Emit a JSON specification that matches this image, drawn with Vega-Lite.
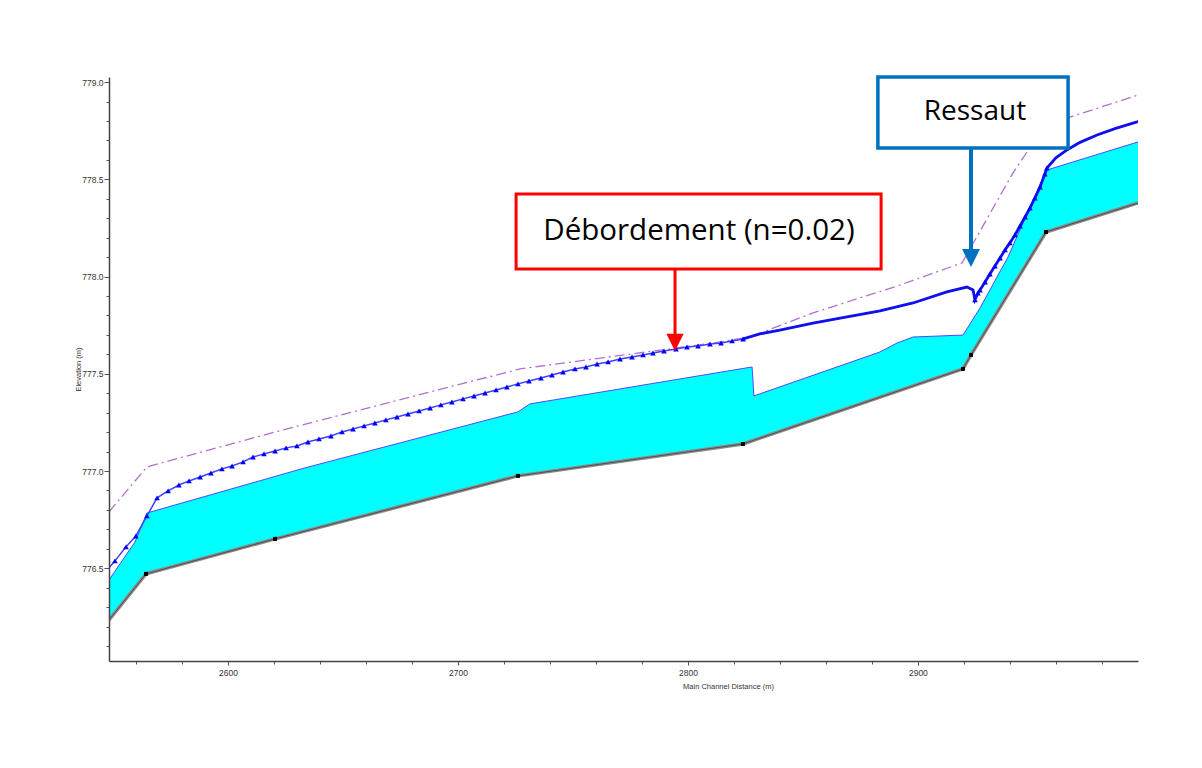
{
  "$schema": "https://vega.github.io/schema/vega-lite/v6.json",
  "width": 1029,
  "height": 584,
  "autosize": "none",
  "padding": {"left": 109, "top": 77, "right": 64, "bottom": 107},
  "background": "white",
  "config": {"view": {"stroke": null}},
  "datasets": {
    "ws": [
      {"x": 2548.3, "y": 776.44}, {"x": 2559.6, "y": 776.635}, {"x": 2564.8, "y": 776.784},
      {"x": 2633.5, "y": 777.016}, {"x": 2726.1, "y": 777.304}, {"x": 2731.3, "y": 777.345},
      {"x": 2827.9, "y": 777.535}, {"x": 2828.7, "y": 777.386}, {"x": 2883.5, "y": 777.612},
      {"x": 2890.9, "y": 777.658}, {"x": 2897.9, "y": 777.689}, {"x": 2919.6, "y": 777.699},
      {"x": 2927.0, "y": 777.838}, {"x": 2939.2, "y": 778.101}, {"x": 2948.7, "y": 778.358},
      {"x": 2956.1, "y": 778.548}, {"x": 2995.7, "y": 778.692}
    ],
    "bed": [
      {"x": 2548.3, "y": 776.234}, {"x": 2564.4, "y": 776.471}, {"x": 2620.5, "y": 776.651},
      {"x": 2726.1, "y": 776.975}, {"x": 2823.9, "y": 777.139}, {"x": 2919.6, "y": 777.525},
      {"x": 2923.1, "y": 777.597}, {"x": 2955.7, "y": 778.229}, {"x": 2995.7, "y": 778.378}
    ],
    "crit": [
      {"x": 2546.1, "y": 776.471}, {"x": 2550.9, "y": 776.538}, {"x": 2555.7, "y": 776.610},
      {"x": 2560.0, "y": 776.666}, {"x": 2564.8, "y": 776.769}, {"x": 2569.2, "y": 776.862},
      {"x": 2574.0, "y": 776.898}, {"x": 2578.7, "y": 776.928}, {"x": 2583.1, "y": 776.949},
      {"x": 2587.9, "y": 776.969}, {"x": 2592.6, "y": 776.990}, {"x": 2597.4, "y": 777.011},
      {"x": 2601.8, "y": 777.026}, {"x": 2606.6, "y": 777.047}, {"x": 2610.9, "y": 777.072},
      {"x": 2615.7, "y": 777.088}, {"x": 2620.5, "y": 777.103}, {"x": 2625.3, "y": 777.119},
      {"x": 2630.0, "y": 777.129}, {"x": 2634.8, "y": 777.149}, {"x": 2639.6, "y": 777.165},
      {"x": 2644.8, "y": 777.180}, {"x": 2649.6, "y": 777.201}, {"x": 2654.4, "y": 777.216},
      {"x": 2659.2, "y": 777.232}, {"x": 2663.9, "y": 777.247}, {"x": 2668.7, "y": 777.263},
      {"x": 2673.5, "y": 777.278}, {"x": 2678.3, "y": 777.293}, {"x": 2683.1, "y": 777.309},
      {"x": 2687.9, "y": 777.324}, {"x": 2692.6, "y": 777.340}, {"x": 2697.4, "y": 777.355},
      {"x": 2702.2, "y": 777.371}, {"x": 2707.0, "y": 777.386}, {"x": 2711.8, "y": 777.401},
      {"x": 2716.6, "y": 777.417}, {"x": 2721.3, "y": 777.432}, {"x": 2726.1, "y": 777.448},
      {"x": 2730.9, "y": 777.463}, {"x": 2736.1, "y": 777.478}, {"x": 2740.9, "y": 777.494},
      {"x": 2745.7, "y": 777.509}, {"x": 2750.9, "y": 777.525}, {"x": 2755.7, "y": 777.535},
      {"x": 2760.5, "y": 777.550}, {"x": 2765.3, "y": 777.561}, {"x": 2770.5, "y": 777.576},
      {"x": 2775.7, "y": 777.586}, {"x": 2780.5, "y": 777.597}, {"x": 2784.8, "y": 777.607},
      {"x": 2789.6, "y": 777.617}, {"x": 2794.8, "y": 777.627}, {"x": 2799.6, "y": 777.638},
      {"x": 2804.4, "y": 777.643}, {"x": 2809.6, "y": 777.653}, {"x": 2814.4, "y": 777.658},
      {"x": 2819.2, "y": 777.669}, {"x": 2824.0, "y": 777.679}, {"x": 2831.3, "y": 777.705},
      {"x": 2840.0, "y": 777.725}, {"x": 2854.4, "y": 777.761}, {"x": 2869.2, "y": 777.792},
      {"x": 2883.5, "y": 777.823}, {"x": 2897.9, "y": 777.864}, {"x": 2912.6, "y": 777.921},
      {"x": 2921.3, "y": 777.946}, {"x": 2924.0, "y": 777.931}, {"x": 2924.8, "y": 777.880},
      {"x": 2926.1, "y": 777.915}, {"x": 2927.0, "y": 777.931}, {"x": 2929.2, "y": 777.972},
      {"x": 2931.3, "y": 778.013}, {"x": 2933.5, "y": 778.054}, {"x": 2935.7, "y": 778.095},
      {"x": 2937.9, "y": 778.137}, {"x": 2940.0, "y": 778.173}, {"x": 2942.2, "y": 778.214},
      {"x": 2944.4, "y": 778.260}, {"x": 2946.6, "y": 778.306}, {"x": 2948.7, "y": 778.352},
      {"x": 2950.9, "y": 778.404}, {"x": 2953.1, "y": 778.460}, {"x": 2955.2, "y": 778.527},
      {"x": 2956.1, "y": 778.558}, {"x": 2960.0, "y": 778.610}, {"x": 2964.8, "y": 778.651},
      {"x": 2970.5, "y": 778.690}, {"x": 2977.9, "y": 778.728}, {"x": 2986.0, "y": 778.762},
      {"x": 2995.3, "y": 778.795}, {"x": 2996.6, "y": 778.800}
    ],
    "egl": [
      {"x": 2548.3, "y": 776.790}, {"x": 2564.8, "y": 777.021}, {"x": 2627.0, "y": 777.221},
      {"x": 2727.0, "y": 777.525}, {"x": 2810.9, "y": 777.658}, {"x": 2827.0, "y": 777.689},
      {"x": 2854.4, "y": 777.813}, {"x": 2890.9, "y": 777.951}, {"x": 2919.2, "y": 778.070},
      {"x": 2941.3, "y": 778.532}, {"x": 2950.9, "y": 778.702}, {"x": 2966.1, "y": 778.820},
      {"x": 2995.7, "y": 778.933}
    ],
    "redbox": [{"x": 2725.3, "x2": 2884.0, "y": 778.424, "y2": 778.039}],
    "bluebox": [{"x": 2882.6, "x2": 2965.3, "y": 779.026, "y2": 778.661}],
    "redarrow": [{"x": 2794.4, "y": 778.039, "y2": 777.70, "tip": 777.617}],
    "bluearrow": [{"x": 2923.1, "y": 778.661, "y2": 778.10, "tip": 778.049}],
    "redtext": [{"x": 2804.8, "y": 778.188, "label": "Débordement (n=0.02)"}],
    "bluetext": [{"x": 2924.8, "y": 778.805, "label": "Ressaut"}]
  },
  "encoding": {
    "x": {
      "field": "x", "type": "quantitative", "title": "Main Channel Distance (m)",
      "scale": {"domain": [2548.3, 2995.7], "nice": false, "zero": false},
      "axis": {
        "values": [2560, 2580, 2600, 2620, 2640, 2660, 2680, 2700, 2720, 2740, 2760, 2780, 2800, 2820, 2840, 2860, 2880, 2900, 2920, 2940, 2960, 2980],
        "labelExpr": "datum.value % 100 === 0 ? format(datum.value, 'd') : ''",
        "tickSize": {"condition": {"test": "datum.value % 100 === 0", "value": 4}, "value": 3},
        "grid": false, "labelFlush": false, "labelOverlap": false,
        "labelFont": "Liberation Sans", "labelFontSize": 8.5, "labelColor": "#333333", "labelPadding": 3,
        "domainColor": "#444444", "domainWidth": 1.5, "tickColor": "#555555", "tickWidth": 1,
        "titleFont": "Liberation Sans", "titleFontSize": 7.5, "titleFontWeight": "normal", "titleColor": "#333333",
        "titleX": 619, "titleY": 21, "titleBaseline": "top", "zindex": 1
      }
    },
    "y": {
      "field": "y", "type": "quantitative", "title": "Elevation (m)",
      "scale": {"domain": [776.023, 779.026], "nice": false, "zero": false},
      "axis": {
        "values": [776.1, 776.2, 776.3, 776.4, 776.5, 776.6, 776.7, 776.8, 776.9, 777.0, 777.1, 777.2, 777.3, 777.4, 777.5, 777.6, 777.7, 777.8, 777.9, 778.0, 778.1, 778.2, 778.3, 778.4, 778.5, 778.6, 778.7, 778.8, 778.9, 779.0],
        "labelExpr": "abs(datum.value * 2 - round(datum.value * 2)) < 0.001 ? format(datum.value, '.1f') : ''",
        "tickSize": {"condition": {"test": "abs(datum.value * 2 - round(datum.value * 2)) < 0.001", "value": 5}, "value": 3},
        "grid": false, "labelFlush": false, "labelOverlap": false,
        "labelFont": "Liberation Sans", "labelFontSize": 8.5, "labelColor": "#333333", "labelPadding": 1,
        "domainColor": "#444444", "domainWidth": 1.5, "tickColor": "#555555", "tickWidth": 1,
        "titleFont": "Liberation Sans", "titleFontSize": 7.5, "titleFontWeight": "normal", "titleColor": "#333333",
        "titleX": -27, "titleY": 292, "titleAngle": -90, "titleAlign": "center", "titleBaseline": "bottom", "zindex": 1
      }
    }
  },
  "layer": [
    {"data": {"name": "ws"}, "mark": {"type": "area", "color": "#00ffff", "clip": true}, "encoding": {"y2": {"datum": 776.023}}},
    {"data": {"name": "bed"}, "mark": {"type": "area", "color": "#ffffff", "clip": true}, "encoding": {"y2": {"datum": 776.023}}},
    {"data": {"name": "bed"}, "mark": {"type": "line", "color": "#8c8c8c", "strokeWidth": 3.5, "clip": true}, "encoding": {}},
    {"data": {"name": "bed"}, "mark": {"type": "line", "color": "#404040", "strokeWidth": 0.8, "clip": true}, "encoding": {}},
    {"data": {"name": "bed"}, "transform": [{"filter": "datum.x > 2549 && datum.x < 2995"}], "mark": {"type": "point", "shape": "square", "filled": true, "color": "#000000", "size": 16, "opacity": 1}},
    {"data": {"name": "ws"}, "mark": {"type": "line", "color": "#4a4aff", "strokeWidth": 1, "clip": true}, "encoding": {}},
    {"data": {"name": "egl"}, "mark": {"type": "line", "color": "#b270cc", "strokeWidth": 1.3, "strokeDash": [10, 4, 2, 4], "clip": true}, "encoding": {}},
    {"data": {"name": "crit"}, "mark": {"type": "line", "color": "#4040ff", "strokeWidth": 1.5, "clip": true}, "encoding": {}},
    {"data": {"name": "crit"}, "transform": [{"filter": "datum.x >= 2823"}], "mark": {"type": "line", "color": "#1010ee", "strokeWidth": 2.8, "clip": true}, "encoding": {}},
    {"data": {"name": "crit"}, "transform": [{"filter": "datum.x < 2825 || (datum.x > 2924.5 && datum.x < 2956.5)"}], "mark": {"type": "point", "shape": "triangle-up", "filled": true, "color": "#0000ff", "size": 32, "opacity": 1, "clip": true}},
    {"data": {"name": "redbox"}, "mark": {"type": "rect", "fill": "#ffffff", "stroke": "#ff0000", "strokeWidth": 3}, "encoding": {"x2": {"field": "x2"}, "y2": {"field": "y2"}}},
    {"data": {"name": "bluebox"}, "mark": {"type": "rect", "fill": "#ffffff", "stroke": "#0070c0", "strokeWidth": 3.5}, "encoding": {"x2": {"field": "x2"}, "y2": {"field": "y2"}}},
    {"data": {"name": "redarrow"}, "mark": {"type": "rule", "color": "#ff0000", "strokeWidth": 3}, "encoding": {"y2": {"field": "y2"}}},
    {"data": {"name": "redarrow"}, "mark": {"type": "point", "shape": "M-1,-2L1,-2L0,0Z", "filled": true, "color": "#ff0000", "size": 300, "opacity": 1}, "encoding": {"y": {"field": "tip", "type": "quantitative"}}},
    {"data": {"name": "bluearrow"}, "mark": {"type": "rule", "color": "#0070c0", "strokeWidth": 4}, "encoding": {"y2": {"field": "y2"}}},
    {"data": {"name": "bluearrow"}, "mark": {"type": "point", "shape": "M-1,-2L1,-2L0,0Z", "filled": true, "color": "#0070c0", "size": 324, "opacity": 1}, "encoding": {"y": {"field": "tip", "type": "quantitative"}}},
    {"data": {"name": "redtext"}, "mark": {"type": "text", "font": "Open Sans", "fontSize": 29.5, "color": "#000000", "align": "center", "baseline": "alphabetic"}, "encoding": {"text": {"field": "label"}}},
    {"data": {"name": "bluetext"}, "mark": {"type": "text", "font": "Open Sans", "fontSize": 28, "color": "#000000", "align": "center", "baseline": "alphabetic"}, "encoding": {"text": {"field": "label"}}}
  ]
}
